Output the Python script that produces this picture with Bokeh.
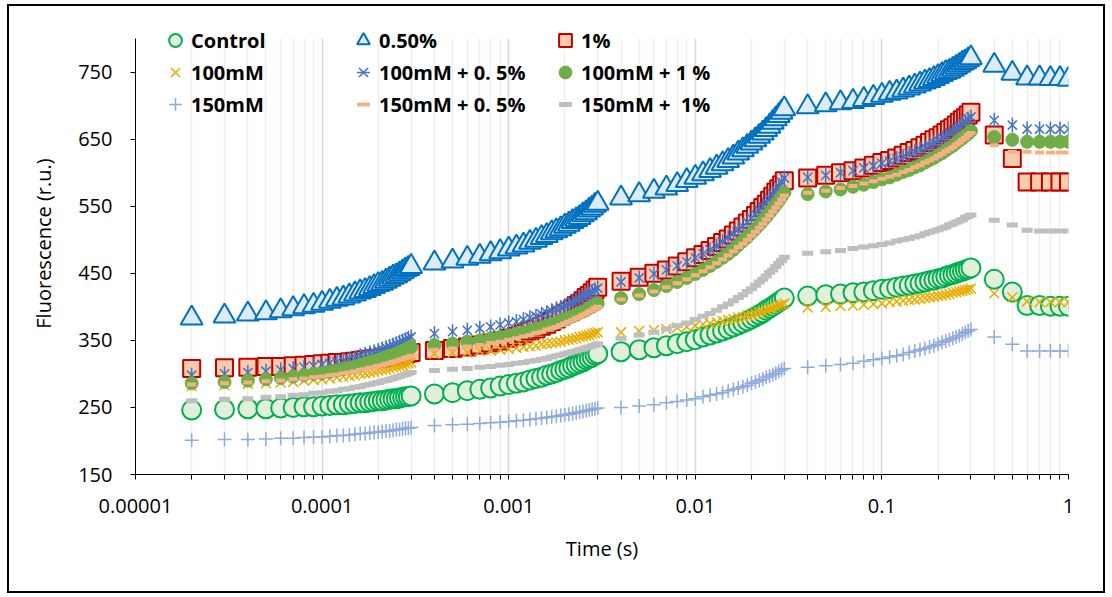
from bokeh.plotting import figure
from bokeh.models import Legend, LegendItem, FixedTicker, Range1d, BoxAnnotation, InlineStyleSheet
from bokeh.embed import file_html
from bokeh.resources import INLINE
import math

# ---------------- data ----------------
time_s = [
    2e-5, 3e-5, 4e-5, 5e-5, 6e-5, 7e-5, 8e-5, 9e-5, 10e-5, 11e-5, 12e-5, 13e-5, 14e-5, 15e-5,
    16e-5, 17e-5, 18e-5, 19e-5, 20e-5, 21e-5, 22e-5, 23e-5, 24e-5, 25e-5, 26e-5, 27e-5, 28e-5, 29e-5, 30e-5,
    4e-4, 5e-4, 6e-4, 7e-4, 8e-4, 9e-4, 10e-4, 11e-4, 12e-4, 13e-4, 14e-4, 15e-4, 16e-4, 17e-4,
    18e-4, 19e-4, 20e-4, 21e-4, 22e-4, 23e-4, 24e-4, 25e-4, 26e-4, 27e-4, 28e-4, 29e-4, 30e-4,
    4e-3, 5e-3, 6e-3, 7e-3, 8e-3, 9e-3, 10e-3, 11e-3, 12e-3, 13e-3, 14e-3, 15e-3, 16e-3, 17e-3,
    18e-3, 19e-3, 20e-3, 21e-3, 22e-3, 23e-3, 24e-3, 25e-3, 26e-3, 27e-3, 28e-3, 29e-3, 30e-3,
    4e-2, 5e-2, 6e-2, 7e-2, 8e-2, 9e-2, 10e-2, 11e-2, 12e-2, 13e-2, 14e-2, 15e-2, 16e-2, 17e-2,
    18e-2, 19e-2, 20e-2, 21e-2, 22e-2, 23e-2, 24e-2, 25e-2, 26e-2, 27e-2, 28e-2, 29e-2, 30e-2,
    0.4, 0.5, 0.6, 0.7, 0.8, 0.9, 1.0,
]

control = [
    246, 247, 248, 248, 249, 250, 251, 251, 252, 253, 254, 254, 255, 256, 257, 257, 258, 259, 260, 260, 261, 262, 263, 263, 264, 265, 266, 266, 267,
    270, 272, 275, 277, 279, 282, 284, 286, 288, 291, 293, 295, 298, 300, 302, 305, 307, 309, 312, 314, 316, 318, 321, 323, 325, 328, 330,
    333, 336, 339, 342, 345, 348, 351, 355, 358, 361, 364, 367, 370, 373, 376, 379, 382, 385, 388, 391, 395, 398, 401, 404, 407, 410, 413,
    416, 418, 419, 421, 422, 424, 426, 427, 429, 431, 432, 434, 435, 437, 439, 440, 442, 443, 445, 447, 448, 450, 452, 453, 455, 456, 458,
    441, 422, 402, 402, 401, 401, 401,
]

pct_050 = [
    383, 386, 389, 391, 394, 397, 400, 402, 405, 408, 411, 413, 416, 419, 422, 424, 427, 430, 433, 435, 438, 441, 444, 446, 449, 452, 455, 457, 460,
    465, 468, 472, 475, 479, 482, 486, 489, 492, 496, 499, 503, 506, 510, 513, 516, 520, 523, 527, 530, 533, 537, 540, 544, 547, 551, 554,
    562, 567, 572, 577, 582, 588, 593, 598, 603, 608, 613, 618, 623, 629, 634, 639, 644, 649, 654, 659, 664, 669, 675, 680, 685, 690, 695,
    698, 701, 704, 706, 709, 712, 715, 718, 720, 723, 726, 729, 732, 735, 737, 740, 743, 746, 749, 751, 754, 757, 760, 763, 765, 768, 771,
    760, 748, 741, 741, 740, 740, 739,
]

pct_1 = [
    308, 309, 310, 311, 311, 312, 313, 314, 315, 316, 317, 317, 318, 319, 320, 321, 322, 323, 323, 324, 325, 326, 327, 328, 329, 329, 330, 331, 332,
    335, 338, 340, 343, 346, 349, 353, 356, 360, 364, 367, 371, 374, 378, 382, 386, 390, 393, 397, 402, 405, 409, 414, 417, 421, 425, 429,
    438, 444, 450, 455, 461, 467, 473, 478, 484, 490, 496, 501, 507, 513, 519, 525, 530, 536, 542, 548, 553, 559, 565, 571, 576, 582, 588,
    592, 596, 600, 603, 607, 611, 615, 618, 622, 626, 630, 633, 637, 641, 645, 649, 652, 656, 660, 664, 667, 671, 675, 679, 682, 686, 690,
    656, 621, 586, 586, 586, 586, 586,
]

mm100 = [
    282, 283, 285, 286, 287, 288, 290, 291, 292, 293, 295, 296, 297, 298, 300, 301, 302, 303, 305, 306, 307, 308, 310, 311, 312, 313, 315, 316, 317,
    330, 331, 332, 334, 335, 336, 337, 339, 340, 341, 342, 344, 345, 346, 347, 348, 350, 351, 352, 353, 355, 356, 357, 358, 360, 361, 362,
    362, 364, 365, 367, 369, 370, 372, 374, 375, 377, 379, 380, 382, 384, 385, 387, 388, 390, 392, 393, 395, 397, 398, 400, 402, 403, 405,
    399, 400, 401, 402, 403, 404, 405, 407, 408, 409, 410, 411, 412, 413, 414, 415, 416, 417, 418, 419, 421, 422, 423, 424, 425, 426, 427,
    420, 414, 408, 407, 407, 407, 407,
]

mm100_05 = [
    298, 300, 302, 304, 306, 308, 310, 312, 314, 316, 318, 320, 322, 324, 327, 329, 331, 333, 335, 337, 339, 341, 343, 345, 347, 349, 351, 353, 355,
    360, 363, 365, 368, 370, 373, 376, 378, 381, 384, 386, 389, 391, 394, 397, 399, 402, 404, 407, 410, 412, 415, 418, 420, 423, 425, 428,
    437, 443, 449, 455, 461, 467, 473, 479, 485, 491, 497, 503, 509, 515, 520, 526, 532, 538, 544, 550, 556, 562, 568, 574, 580, 586, 592,
    593, 596, 600, 603, 607, 610, 614, 617, 621, 624, 628, 631, 635, 638, 641, 645, 648, 652, 655, 659, 662, 666, 669, 673, 676, 680, 683,
    678, 671, 665, 665, 665, 665, 665,
]

mm100_1 = [
    286, 288, 290, 292, 294, 296, 298, 300, 301, 303, 305, 307, 309, 311, 313, 315, 317, 319, 321, 323, 325, 327, 328, 330, 332, 334, 336, 338, 340,
    343, 345, 348, 350, 353, 355, 357, 360, 362, 364, 367, 369, 372, 374, 376, 379, 381, 384, 386, 388, 391, 393, 395, 398, 400, 403, 405,
    413, 419, 425, 431, 437, 443, 449, 455, 461, 467, 473, 479, 485, 492, 498, 504, 510, 516, 522, 528, 534, 540, 546, 552, 558, 564, 570,
    568, 572, 575, 579, 582, 586, 590, 593, 597, 601, 604, 608, 611, 615, 619, 622, 626, 629, 633, 637, 640, 644, 648, 651, 655, 658, 662,
    653, 649, 646, 646, 646, 646, 646,
]

mm150 = [
    201, 202, 202, 203, 204, 204, 205, 206, 206, 207, 208, 208, 209, 210, 211, 211, 212, 213, 213, 214, 215, 215, 216, 217, 217, 218, 219, 219, 220,
    223, 224, 225, 226, 227, 228, 229, 230, 231, 232, 233, 234, 235, 236, 237, 238, 239, 240, 241, 242, 243, 244, 245, 246, 247, 248, 249,
    250, 252, 254, 257, 259, 261, 263, 266, 268, 270, 272, 275, 277, 279, 281, 283, 286, 288, 290, 292, 295, 297, 299, 301, 304, 306, 308,
    310, 312, 314, 316, 319, 321, 323, 325, 327, 329, 332, 334, 336, 338, 340, 342, 344, 347, 349, 351, 353, 355, 357, 360, 362, 364, 366,
    355, 344, 334, 334, 334, 334, 334,
]

mm150_05 = [
    284, 286, 287, 289, 290, 292, 293, 295, 296, 298, 299, 301, 302, 304, 306, 307, 309, 310, 312, 313, 315, 316, 318, 319, 321, 322, 324, 325, 327,
    336, 338, 341, 343, 346, 348, 351, 353, 356, 358, 361, 363, 366, 368, 370, 373, 375, 378, 380, 383, 385, 388, 390, 393, 395, 398, 400,
    411, 417, 423, 429, 435, 441, 447, 453, 459, 465, 471, 477, 483, 489, 494, 500, 506, 512, 518, 524, 530, 536, 542, 548, 554, 560, 566,
    570, 573, 577, 580, 584, 587, 591, 594, 597, 601, 604, 608, 611, 615, 618, 621, 625, 628, 632, 635, 638, 642, 645, 649, 652, 656, 659,
    641, 631, 631, 630, 630, 630, 630,
]

mm150_1 = [
    260, 262, 263, 265, 266, 268, 269, 271, 272, 274, 275, 277, 278, 280, 281, 283, 284, 286, 287, 289, 290, 292, 293, 295, 296, 298, 299, 301, 302,
    305, 307, 308, 310, 311, 313, 314, 316, 317, 319, 320, 322, 323, 325, 327, 328, 330, 331, 333, 334, 336, 337, 339, 340, 342, 343, 345,
    353, 358, 362, 367, 372, 376, 381, 386, 390, 395, 400, 404, 409, 414, 418, 423, 427, 432, 437, 441, 446, 451, 455, 460, 465, 469, 474,
    480, 482, 484, 487, 489, 491, 493, 495, 498, 500, 502, 504, 506, 509, 511, 513, 515, 517, 519, 522, 524, 526, 528, 530, 533, 535, 537,
    529, 522, 514, 513, 513, 513, 513,
]

series_labels = ["Control", "0.50%", "1%", "100mM", "100mM + 0. 5%", "100mM + 1 %",
                 "150mM", "150mM + 0. 5%", "150mM +  1%"]
y_ticks = [150, 250, 350, 450, 550, 650, 750]
y_axis_max = 800
x_ticks = [1e-5, 1e-4, 1e-3, 1e-2, 1e-1, 1.0]
x_tick_labels = ["0.00001", "0.0001", "0.001", "0.01", "0.1", "1"]

all_series = [control, pct_050, pct_1, mm100, mm100_05, mm100_1, mm150, mm150_05, mm150_1]
for lab, s in zip(series_labels, all_series):
    if len(s) != len(time_s):
        raise ValueError(f"length mismatch {lab}: {len(s)} vs {len(time_s)}")

# ---------------- figure ----------------
W, H = 1112, 597
FL, FR, FB = 135, 1068, 474     # frame left/right/bottom (canvas px)
AXIS_TOP = 38                   # where the value 800 sits
FT = 12                         # frame extended upward to hold the legend
px_per_unit = (FB - AXIS_TOP) / (y_axis_max - y_ticks[0])
y_top = y_ticks[0] + (FB - FT) / px_per_unit

border_css = InlineStyleSheet(css="""
:host { position: relative; }
:host::after {
  content: "";
  position: absolute;
  left: 7px; top: 4px; right: 7px; bottom: 4px;
  border: 2px solid #000;
  pointer-events: none;
  z-index: 1000;
}
""")

p = figure(width=W, height=H, x_axis_type="log",
           x_range=Range1d(1e-5, 1.0), y_range=Range1d(y_ticks[0], y_top),
           output_backend="svg", toolbar_location=None,
           min_border_left=FL, min_border_right=W - FR,
           min_border_top=FT, min_border_bottom=H - FB)
p.stylesheets = [border_css]
p.outline_line_color = None
p.background_fill_color = "white"
p.border_fill_color = "white"

minor = [m * 10.0 ** e for e in range(-5, 0) for m in range(2, 10)]
xt = FixedTicker(ticks=x_ticks, minor_ticks=minor)
p.xaxis.ticker = xt
p.xgrid.ticker = xt
p.xaxis.major_label_overrides = {t: l for t, l in zip(x_ticks, x_tick_labels)}
p.yaxis.ticker = FixedTicker(ticks=y_ticks)
p.yaxis.bounds = (y_ticks[0], y_axis_max)

p.ygrid.grid_line_color = None
p.xgrid.grid_line_color = "#D9D9D9"
p.xgrid.grid_line_width = 1.5
p.xgrid.minor_grid_line_color = "#EEEEEE"
p.xgrid.minor_grid_line_width = 1.5

# white cover above 800 so grid lines stop at the axis top
cover = BoxAnnotation(bottom=y_axis_max, fill_color="white", fill_alpha=1,
                      line_color=None, level="underlay")
p.add_layout(cover)

FONT = "Open Sans"
for ax in (p.xaxis, p.yaxis):
    ax.axis_line_color = "black"
    ax.axis_line_width = 1
    ax.major_tick_line_color = "black"
    ax.major_tick_out = 5
    ax.major_tick_in = 0
    ax.major_label_text_font = FONT
    ax.major_label_text_font_size = "20px"
    ax.major_label_text_color = "black"
    ax.axis_label_text_font = FONT
    ax.axis_label_text_font_size = "20px"
    ax.axis_label_text_font_style = "normal"
    ax.axis_label_text_color = "black"
p.xaxis.major_label_standoff = 19
p.yaxis.major_label_standoff = 18
p.xaxis.minor_tick_line_color = "black"
p.xaxis.minor_tick_out = 5
p.xaxis.minor_tick_in = 0
p.yaxis.minor_tick_line_color = None
p.xaxis.axis_label = "Time (s)"
p.yaxis.axis_label = "Fluorescence (r.u.)"
p.xaxis.axis_label_standoff = 19
p.yaxis.axis_label_standoff = 18

# ---------------- series ----------------
r_control = p.scatter(time_s, control, marker="circle", size=19, line_color="#00B050",
                      line_width=2, fill_color="#E2EFDA")
r_050 = p.scatter(time_s, pct_050, marker="triangle", size=22, line_color="#0070C0",
                  line_width=2, fill_color="#DDEBF7")
r_1 = p.scatter(time_s, pct_1, marker="square", size=17, line_color="#C00000",
                line_width=2, fill_color="#F8CBAD")
r_100 = p.scatter(time_s, mm100, marker="x", size=14, line_color="#E8AC00", line_width=1.5)
r_100_05a = p.scatter(time_s, mm100_05, marker="x", size=13, line_color="#4472C4",
                      line_width=1.5)
r_100_05b = p.scatter(time_s, mm100_05, marker="dash", size=15, angle=math.pi / 2,
                      line_color="#4472C4", line_width=1.5)
r_100_1 = p.scatter(time_s, mm100_1, marker="circle", size=13, line_color="#70AD47",
                    fill_color="#70AD47", line_width=1)
r_150 = p.scatter(time_s, mm150, marker="cross", size=14, line_color="#8FAADC", line_width=1.5)
r_150_05 = p.scatter(time_s, mm150_05, marker="dash", size=9, line_color="#F4B183", line_width=4)
r_150_1 = p.scatter(time_s, mm150_1, marker="dash", size=11, line_color="#BFBFBF", line_width=5)

renderers = [[r_control], [r_050], [r_1], [r_100], [r_100_05a, r_100_05b], [r_100_1],
             [r_150], [r_150_05], [r_150_1]]

# ---------------- legend: three columns ----------------
GH = 32
col_x = [175, 363, 565]
row1_center = 40
legend_bottom_canvas = row1_center - GH / 2 + 3 * GH
for c in range(3):
    items = [LegendItem(label=series_labels[c + 3 * r], renderers=renderers[c + 3 * r])
             for r in range(3)]
    lg = Legend(items=items, location=(col_x[c] - GH / 2 - FL, FB - legend_bottom_canvas),
                orientation="vertical", glyph_height=GH, glyph_width=GH, label_height=GH,
                spacing=0, padding=0, margin=0, label_standoff=-8,
                border_line_color=None, background_fill_alpha=0,
                label_text_font=FONT, label_text_font_style="bold",
                label_text_font_size="20px", label_text_color="black")
    p.add_layout(lg)

open("out.html", "w").write(file_html(p, INLINE))
